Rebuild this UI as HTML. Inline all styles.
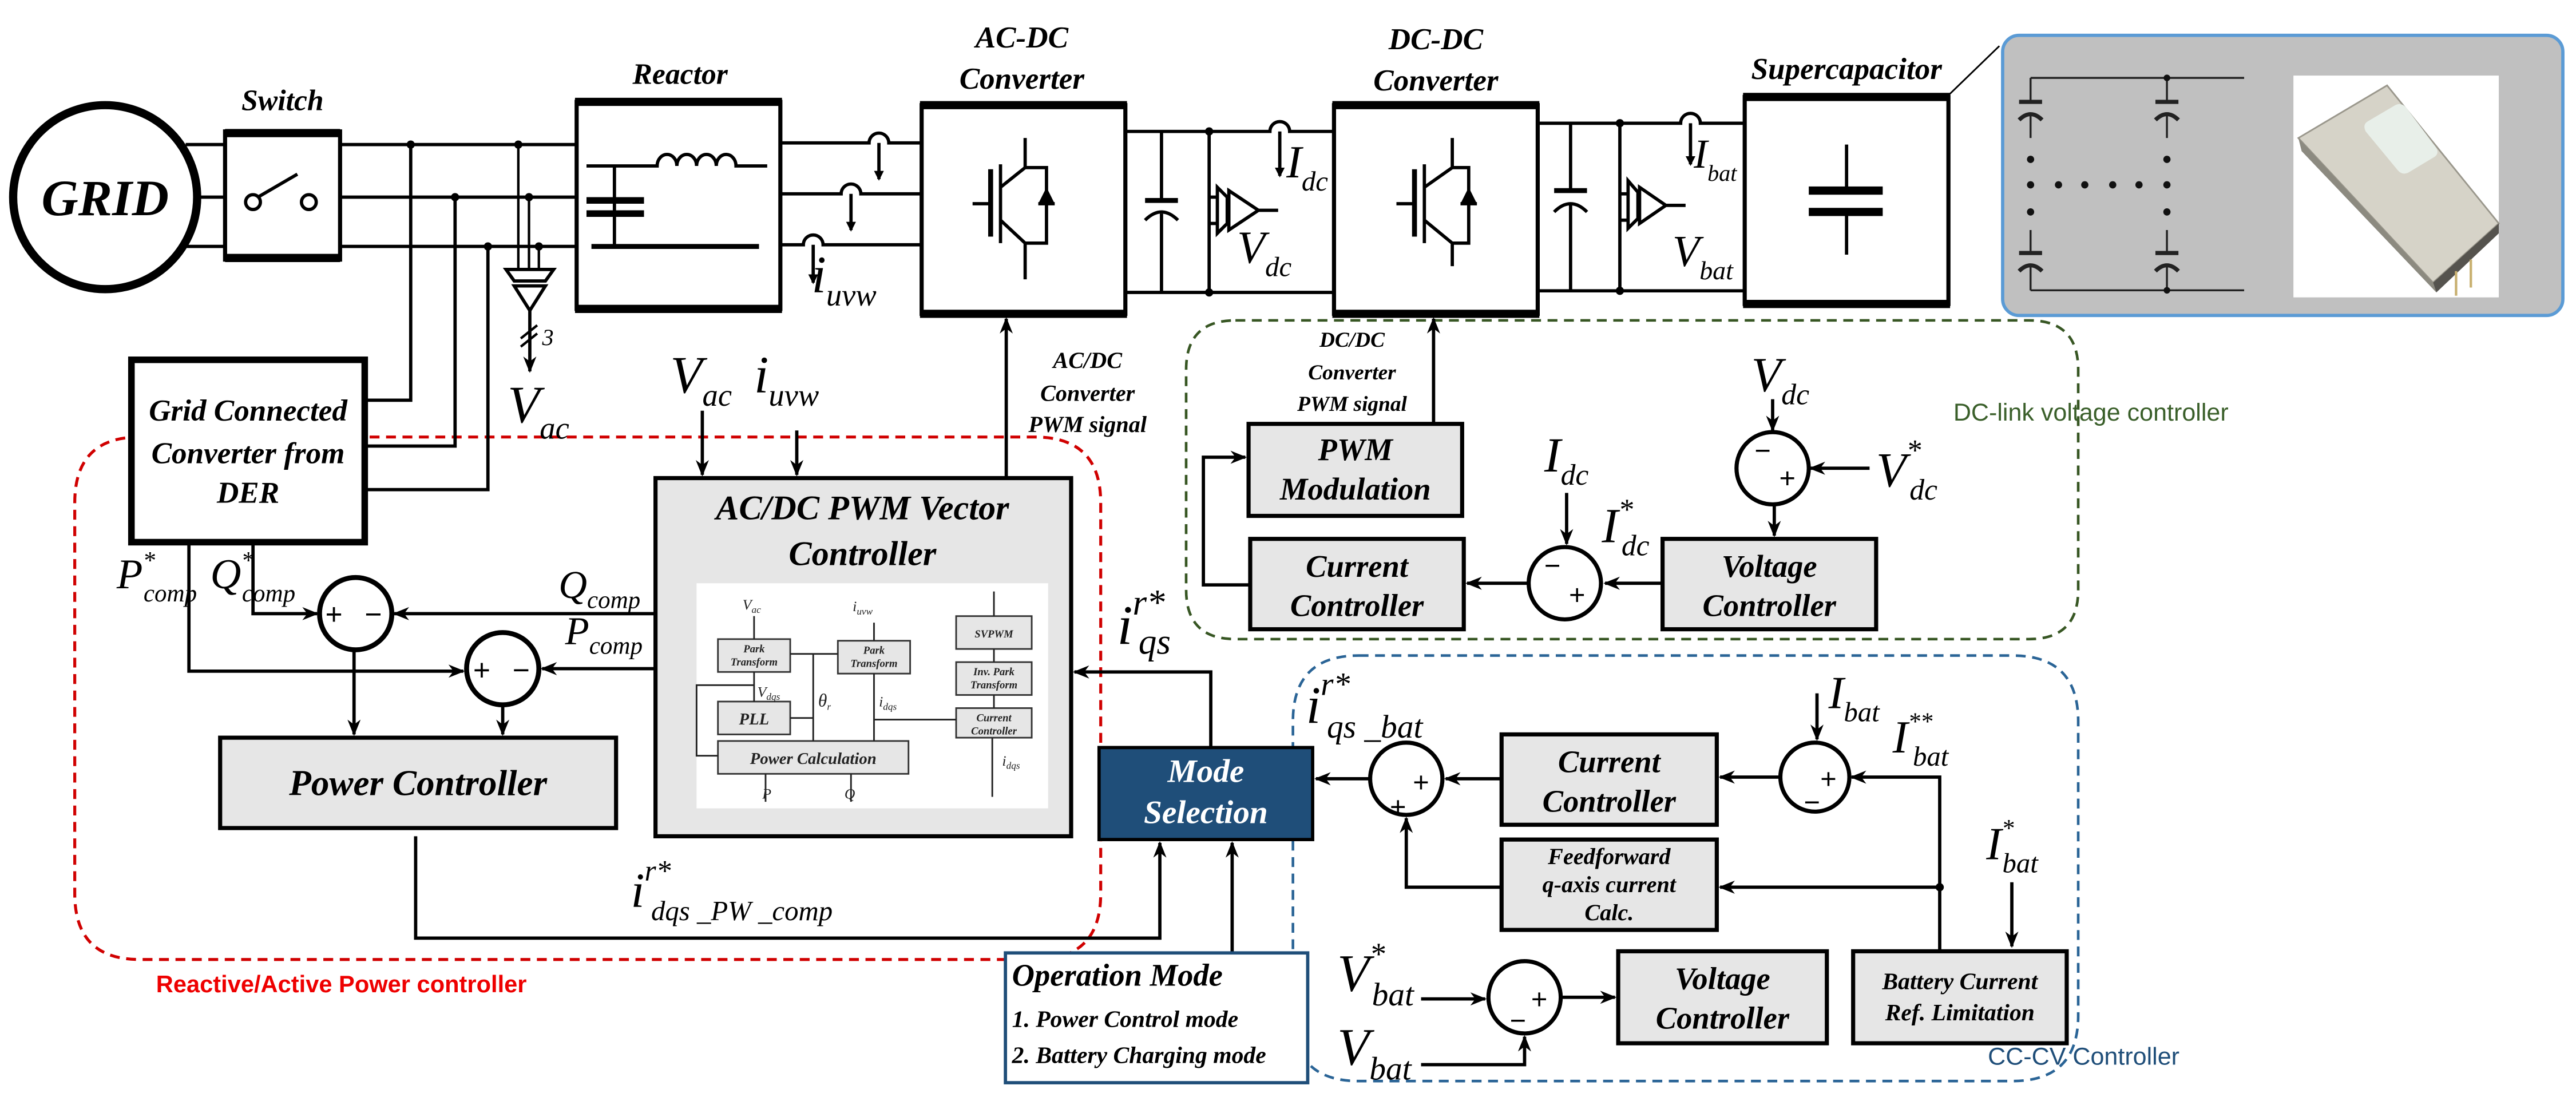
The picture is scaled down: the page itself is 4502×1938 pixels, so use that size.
<!DOCTYPE html>
<html><head><meta charset="utf-8"><style>
html,body{margin:0;padding:0;background:#fff}
svg{display:block}
.b{font-family:"Liberation Serif",serif;font-weight:bold;font-style:italic}
.m{font-family:"Liberation Serif",serif;font-style:italic}
.ln{stroke:#000;stroke-width:2;fill:none}
.bx{fill:#e6e6e6;stroke:#000;stroke-width:2.5}
</style></head><body>
<svg width="4502" height="1938" viewBox="0 0 1568 675" preserveAspectRatio="none" xmlns="http://www.w3.org/2000/svg">
<defs>
<marker id="a" markerWidth="10" markerHeight="10" refX="9" refY="5" orient="auto" markerUnits="userSpaceOnUse"><path d="M0,1 L10,5 L0,9 L3,5 z" fill="#000"/></marker>
<marker id="s" markerWidth="6" markerHeight="6" refX="5" refY="3" orient="auto" markerUnits="userSpaceOnUse"><path d="M0,0 L6,3 L0,6 z" fill="#000"/></marker>
</defs>
<rect width="1568" height="675" fill="#fff"/>

<path d="M85,266 H630 Q670,266 670,306 V544 Q670,584 630,584 H85 Q45.5,584 45.5,544 V306 Q45.5,266 85,266 Z" fill="none" stroke="#d00000" stroke-width="1.8" stroke-dasharray="6,4"/>
<text x="95" y="604" font-family="Liberation Sans,sans-serif" font-weight="bold" font-size="14.5" fill="#ee0000">Reactive/Active Power controller</text>
<path d="M752,195 H1235 Q1265,195 1265,225 V359 Q1265,389 1235,389 H752 Q722,389 722,359 V225 Q722,195 752,195 Z" fill="none" stroke="#375623" stroke-width="1.6" stroke-dasharray="6,4"/>
<text x="1189" y="256" font-family="Liberation Sans,sans-serif" font-size="15" fill="#3a5f2a">DC-link voltage controller</text>
<path d="M827,399 H1225 Q1265,399 1265,439 V618 Q1265,658 1225,658 H827 Q787,658 787,618 V439 Q787,399 827,399 Z" fill="none" stroke="#2a6496" stroke-width="1.6" stroke-dasharray="6,4"/>
<text x="1210" y="648" font-family="Liberation Sans,sans-serif" font-size="15" fill="#1f4e79">CC-CV Controller</text>

<circle cx="64" cy="120" r="56" fill="none" stroke="#000" stroke-width="5"/>
<text x="64" y="131" text-anchor="middle" class="b" font-size="31">GRID</text>
<path class="ln" d="M113,88 H136 M120,120 H136 M113,150 H136"/>
<text x="172" y="67" text-anchor="middle" class="b" font-size="18">Switch</text>
<rect x="137" y="80" width="70" height="78" fill="#fff" stroke="#000" stroke-width="2.5"/>
<path d="M137,81 H207 M137,157 H207" stroke="#000" stroke-width="5"/>
<circle cx="154" cy="123" r="4.5" class="ln"/><circle cx="188" cy="123" r="4.5" class="ln"/>
<path class="ln" d="M157,120 L181,106"/>
<path class="ln" d="M207,88 H350 M207,120 H350 M207,150 H350"/>
<g fill="#000"><circle cx="250" cy="88" r="2.5"/><circle cx="277" cy="120" r="2.5"/><circle cx="297" cy="150" r="2.5"/><circle cx="315.5" cy="88" r="2.5"/><circle cx="322" cy="120" r="2.5"/><circle cx="328" cy="150" r="2.5"/></g>
<path class="ln" d="M250,88 V243.6 H223 M277,120 V271.5 H223 M297,150 V298 H223"/>
<path d="M315.5,88 V164 M322,120 V164 M328,150 V164" stroke="#000" stroke-width="1.5"/>
<path d="M308,164 H337 L332,171 H313 Z" class="ln" stroke-width="1.5"/>
<path d="M313,174 H332 L322.5,189 Z" class="ln" stroke-width="1.5"/>
<path class="ln" d="M322.5,189 V226" marker-end="url(#a)" stroke-width="1.5"/>
<path d="M317,206 L327,198 M317,211 L327,203" stroke="#000" stroke-width="1.5"/>
<text x="330" y="210" class="m" font-size="14">3</text>
<text x="309" y="257" class="m" font-size="32">V<tspan font-size="19" dy="10">ac</tspan></text>

<rect x="80" y="219" width="142" height="111" fill="#fff" stroke="#000" stroke-width="4"/>
<text x="151" y="256" text-anchor="middle" class="b" font-size="18.5">Grid Connected</text>
<text x="151" y="282" text-anchor="middle" class="b" font-size="18.5">Converter from</text>
<text x="151" y="306" text-anchor="middle" class="b" font-size="18.5">DER</text>

<text x="414" y="51" text-anchor="middle" class="b" font-size="18">Reactor</text>
<rect x="351" y="62" width="124" height="126" fill="#fff" stroke="#000" stroke-width="2.5"/>
<path d="M350,62 H476 M350,188 H476" stroke="#000" stroke-width="5"/>
<path class="ln" stroke-width="3" d="M357,101 H400 a6,7 0 0 1 12,0 a6,7 0 0 1 12,0 a6,7 0 0 1 12,0 a6,7 0 0 1 12,0 H467"/>
<path class="ln" d="M374,101 V150"/>
<path d="M357,122 H392 M357,130 H392" stroke="#000" stroke-width="4"/>
<path d="M360,150 H462" stroke="#000" stroke-width="3"/>
<path class="ln" d="M475,87 H529 a6,6 0 0 1 12,0 H560 M475,118 H512 a6,6 0 0 1 12,0 H560 M475,149 H489 a6,6 0 0 1 12,0 H560"/>
<path class="ln" stroke-width="1.5" d="M535,87 V109" marker-end="url(#s)"/>
<path class="ln" stroke-width="1.5" d="M518,118 V140" marker-end="url(#s)"/>
<path class="ln" stroke-width="1.5" d="M495,149 V172" marker-end="url(#s)"/>
<text x="494" y="178" class="m" font-size="32">i<tspan font-size="19" dy="8">uvw</tspan></text>

<text x="622" y="29" text-anchor="middle" class="b" font-size="18.5">AC-DC</text>
<text x="622" y="54" text-anchor="middle" class="b" font-size="18.5">Converter</text>
<rect x="561" y="64" width="124" height="127" fill="#fff" stroke="#000" stroke-width="2.5"/>
<path d="M560,64 H686 M560,191 H686" stroke="#000" stroke-width="5"/>
<g class="ln">
<path d="M592,124 H603" /><path d="M603,103 V144" stroke-width="3"/><path d="M609,100 V148" stroke-width="2"/>
<path d="M609,114 L624,102 V84 M609,134 L624,148 V170 M624,102 H637 V148 H624"/>
<path d="M632,124 H642" /></g>
<path d="M637,114 L632,124 H642 Z" fill="#000"/>
<path class="ln" d="M685,80 H773 a6,6 0 0 1 12,0 H811 M685,178 H811"/>
<path class="ln" d="M707,80 V122 M707,130 V178 M736,80 V178"/>
<path d="M697,122 H717" stroke="#000" stroke-width="3"/><path d="M697,134 Q707,124 717,134" class="ln" stroke-width="3"/>
<g fill="#000"><circle cx="736" cy="80" r="2.5"/><circle cx="736" cy="178" r="2.5"/></g>
<path class="ln" stroke-width="1.5" d="M736,120 H741 M736,136 H741 M741,114 V142 L747,136 V120 Z M748,116 V140 L766,128 Z M766,128 H778" />
<path class="ln" stroke-width="1.5" d="M779,80 V107" marker-end="url(#s)"/>
<text x="783" y="108" class="m" font-size="28">I<tspan font-size="17" dy="8">dc</tspan></text>
<text x="753" y="160" class="m" font-size="28">V<tspan font-size="17" dy="8">dc</tspan></text>

<text x="874" y="30" text-anchor="middle" class="b" font-size="18.5">DC-DC</text>
<text x="874" y="55" text-anchor="middle" class="b" font-size="18.5">Converter</text>
<rect x="812" y="64" width="124" height="127" fill="#fff" stroke="#000" stroke-width="2.5"/>
<path d="M811,64 H937 M811,191 H937" stroke="#000" stroke-width="5"/>
<g class="ln">
<path d="M850,124 H861"/><path d="M861,103 V144" stroke-width="3"/><path d="M867,100 V148"/>
<path d="M867,114 L884,102 V84 M867,134 L884,148 V162 M884,102 H894 V148 H884"/>
<path d="M889,124 H899"/></g>
<path d="M894,114 L889,124 H899 Z" fill="#000"/>
<path class="ln" d="M936,75 H1023 a6,6 0 0 1 12,0 H1061 M936,177 H1061"/>
<path class="ln" d="M956,75 V116 M956,124 V177 M986,75 V177"/>
<path d="M946,116 H966" stroke="#000" stroke-width="3"/><path d="M946,129 Q956,119 966,129" class="ln" stroke-width="3"/>
<g fill="#000"><circle cx="986" cy="75" r="2.5"/><circle cx="986" cy="177" r="2.5"/></g>
<path class="ln" stroke-width="1.5" d="M986,118 H991 M986,134 H991 M991,110 V139 L997,133 V117 Z M998,114 V136 L1014,125 Z M1014,125 H1026"/>
<path class="ln" stroke-width="1.5" d="M1029,75 V100" marker-end="url(#s)"/>
<text x="1031" y="102" class="m" font-size="25">I<tspan font-size="14" dy="8">bat</tspan></text>
<text x="1018" y="162" class="m" font-size="27">V<tspan font-size="16" dy="8">bat</tspan></text>

<text x="1124" y="48" text-anchor="middle" class="b" font-size="18.5">Supercapacitor</text>
<rect x="1062" y="59" width="124" height="126" fill="#fff" stroke="#000" stroke-width="2.5"/>
<path d="M1061,59 H1187 M1061,185 H1187" stroke="#000" stroke-width="5"/>
<path class="ln" d="M1124,88 V116 M1124,129 V155"/>
<path d="M1101,116 H1146 M1101,129 H1146" stroke="#000" stroke-width="5"/>
<path d="M1186,58 L1217,28" stroke="#000" stroke-width="1"/>
<rect x="1219" y="21.5" width="341" height="170.5" rx="10" fill="#c0c0c0" stroke="#5b9bd5" stroke-width="2"/>
<g stroke="#222" stroke-width="1.2" fill="none">
<path d="M1236,47.4 H1366 M1236,176.7 H1366 M1236,47.4 V62 M1236,70 V84 M1319,47.4 V62 M1319,70 V84 M1236,140 V154 M1236,162 V176.7 M1319,140 V154 M1319,162 V176.7"/>
<path d="M1229,62 H1243 M1312,62 H1326 M1229,154 H1243 M1312,154 H1326" stroke-width="2.5"/>
<path d="M1229,73 Q1236,66 1243,73 M1312,73 Q1319,66 1326,73 M1229,165 Q1236,158 1243,165 M1312,165 Q1319,158 1326,165" stroke-width="2.5"/>
</g>
<g fill="#111"><circle cx="1236" cy="97" r="2.2"/><circle cx="1236" cy="129" r="2.2"/><circle cx="1319" cy="97" r="2.2"/><circle cx="1319" cy="129" r="2.2"/><circle cx="1319" cy="47.4" r="2"/><circle cx="1319" cy="176.7" r="2"/>
<circle cx="1236" cy="112.5" r="2.2"/><circle cx="1253" cy="112.5" r="2.2"/><circle cx="1269" cy="112.5" r="2.2"/><circle cx="1286" cy="112.5" r="2.2"/><circle cx="1302" cy="112.5" r="2.2"/><circle cx="1319" cy="112.5" r="2.2"/></g>
<rect x="1396" y="46" width="125" height="135" fill="#fff"/>
<path d="M1399,84 L1453,52 L1521,136 L1481,172 Z" fill="#d6d3c8" stroke="#9a978c" stroke-width="1"/>
<path d="M1399,84 L1401,92 L1483,178 L1481,172 Z" fill="#8c8a80"/>
<path d="M1481,172 L1483,178 L1521,142 L1521,136 Z" fill="#55534e"/>
<path d="M1441,74 L1458,64 Q1462,62 1465,66 L1483,90 Q1485,94 1481,96 L1466,105 Q1462,107 1459,103 L1440,80 Q1438,76 1441,74 Z" fill="#e8efe9"/>
<path d="M1495,165 V180 M1504,158 V175" stroke="#c8b070" stroke-width="1.5"/>

<path class="ln" d="M612.5,290 V194" marker-end="url(#a)"/>
<text x="662" y="224" text-anchor="middle" class="b" font-size="14">AC/DC</text>
<text x="662" y="244" text-anchor="middle" class="b" font-size="14">Converter</text>
<text x="662" y="263" text-anchor="middle" class="b" font-size="14">PWM signal</text>
<text x="408" y="239" class="m" font-size="32">V<tspan font-size="19" dy="8">ac</tspan></text>
<text x="459" y="239" class="m" font-size="32">i<tspan font-size="19" dy="8">uvw</tspan></text>
<path class="ln" d="M427.5,250 V289" marker-end="url(#a)"/>
<path class="ln" d="M485,262 V289" marker-end="url(#a)"/>

<rect x="399" y="291" width="253" height="218" class="bx"/>
<text x="525" y="316" text-anchor="middle" class="b" font-size="21">AC/DC PWM Vector</text>
<text x="525" y="344" text-anchor="middle" class="b" font-size="21">Controller</text>
<rect x="424" y="355" width="214" height="137" fill="#fff"/>
<g stroke="#333" stroke-width="1" fill="#e6e6e6">
<rect x="437" y="389" width="44" height="20"/><rect x="510" y="390" width="44" height="20"/>
<rect x="437" y="427" width="44" height="20"/><rect x="437" y="451" width="116" height="20"/>
<rect x="582" y="375" width="46" height="20"/><rect x="582" y="403" width="46" height="20"/><rect x="582" y="431" width="46" height="18"/>
</g>
<g class="b" font-size="6.5" text-anchor="middle" fill="#222">
<text x="459" y="397">Park</text><text x="459" y="405">Transform</text>
<text x="532" y="398">Park</text><text x="532" y="406">Transform</text>
<text x="459" y="441" font-size="10">PLL</text>
<text x="495" y="465" font-size="10">Power Calculation</text>
<text x="605" y="388">SVPWM</text>
<text x="605" y="411">Inv. Park</text><text x="605" y="419">Transform</text>
<text x="605" y="439">Current</text><text x="605" y="447">Controller</text>
</g>
<g stroke="#222" stroke-width="1" fill="none">
<path d="M459,375 V389 M532,379 V390 M481,398 H510 M495,398 V451 M481,437 H495 M459,409 V427 M532,410 V451 M532,438 H582 M459,417 H424 V460 H437 M605,375 V360 M605,403 V395 M605,431 V423 M604,485 V449 M466,471 V488 M518,471 V488"/>
</g>
<g class="m" font-size="9" fill="#222">
<text x="452" y="371">V<tspan font-size="6" dy="2">ac</tspan></text>
<text x="519" y="372">i<tspan font-size="6" dy="2">uvw</tspan></text>
<text x="461" y="424">V<tspan font-size="6" dy="2">dqs</tspan></text>
<text x="498" y="430" font-size="11">θ<tspan font-size="6" dy="2">r</tspan></text>
<text x="535" y="430">i<tspan font-size="6" dy="2">dqs</tspan></text>
<text x="610" y="466">i<tspan font-size="6" dy="2">dqs</tspan></text>
<text x="464" y="486">P</text><text x="514" y="486">Q</text>
</g>

<text x="71" y="358" class="m" font-size="26">P<tspan font-size="15" dy="-12">*</tspan><tspan font-size="15" dx="-7" dy="20">comp</tspan></text>
<text x="128" y="358" class="m" font-size="26">Q<tspan font-size="15" dy="-12">*</tspan><tspan font-size="15" dx="-7" dy="20">comp</tspan></text>
<path class="ln" d="M115,331 V408.5 H282" marker-end="url(#a)"/>
<path class="ln" d="M154,331 V373.5 H193" marker-end="url(#a)"/>
<circle cx="216.5" cy="373.5" r="22" fill="#fff" stroke="#000" stroke-width="3"/>
<circle cx="306" cy="407" r="22" fill="#fff" stroke="#000" stroke-width="3"/>
<g font-family="Liberation Sans,sans-serif" font-size="18"><text x="198" y="380">+</text><text x="222" y="380">−</text><text x="288" y="414">+</text><text x="312" y="414">−</text></g>
<path class="ln" d="M399,373.5 H240" marker-end="url(#a)"/>
<path class="ln" d="M399,407 H330" marker-end="url(#a)"/>
<text x="340" y="364" class="m" font-size="24">Q<tspan font-size="15" dy="6">comp</tspan></text>
<text x="344" y="392" class="m" font-size="24">P<tspan font-size="15" dy="6">comp</tspan></text>
<path class="ln" d="M215.5,396 V447" marker-end="url(#a)"/>
<path class="ln" d="M306,429 V447" marker-end="url(#a)"/>
<rect x="134" y="449" width="241" height="55" class="bx"/>
<text x="254.5" y="484" text-anchor="middle" class="b" font-size="22">Power Controller</text>
<path class="ln" d="M253,509 V571 H706 V513" marker-end="url(#a)"/>
<text x="384" y="552" class="m" font-size="30">i<tspan font-size="18" dy="-16">r*</tspan><tspan font-size="17" dx="-12" dy="24">dqs _PW _comp</tspan></text>

<rect x="669" y="455" width="130" height="56" fill="#1f4e79" stroke="#000" stroke-width="2"/>
<text x="734" y="476" text-anchor="middle" class="b" font-size="20" fill="#fff">Mode</text>
<text x="734" y="501" text-anchor="middle" class="b" font-size="20" fill="#fff">Selection</text>
<path class="ln" d="M737,455 V409 H654" marker-end="url(#a)"/>
<text x="680" y="392" class="m" font-size="34">i<tspan font-size="22" dy="-18">r*</tspan><tspan font-size="22" dx="-16" dy="24">qs</tspan></text>
<path class="ln" d="M750,580 V513" marker-end="url(#a)"/>
<rect x="612" y="580" width="184" height="79" fill="#fff" stroke="#1f4e79" stroke-width="2"/>
<text x="616" y="600" class="b" font-size="19">Operation Mode</text>
<text x="616" y="625" class="b" font-size="14.5">1. Power Control mode</text>
<text x="616" y="647" class="b" font-size="14.5">2. Battery Charging mode</text>

<text x="823" y="211" text-anchor="middle" class="b" font-size="13">DC/DC</text>
<text x="823" y="231" text-anchor="middle" class="b" font-size="13">Converter</text>
<text x="823" y="250" text-anchor="middle" class="b" font-size="13">PWM signal</text>
<path class="ln" d="M872.6,257.5 V194" marker-end="url(#a)"/>
<rect x="760" y="258" width="130" height="56" class="bx"/>
<text x="825" y="280" text-anchor="middle" class="b" font-size="19">PWM</text>
<text x="825" y="304" text-anchor="middle" class="b" font-size="19">Modulation</text>
<rect x="761" y="328" width="130" height="55" class="bx"/>
<text x="826" y="351" text-anchor="middle" class="b" font-size="19">Current</text>
<text x="826" y="375" text-anchor="middle" class="b" font-size="19">Controller</text>
<path class="ln" d="M761,356 H732.5 V278.3 H758" marker-end="url(#a)"/>
<circle cx="952.5" cy="355" r="22" fill="#fff" stroke="#000" stroke-width="2.5"/>
<g font-family="Liberation Sans,sans-serif" font-size="17"><text x="940" y="350">−</text><text x="955" y="368">+</text></g>
<path class="ln" d="M930,355 H893" marker-end="url(#a)"/>
<path class="ln" d="M1012,355 H977" marker-end="url(#a)"/>
<path class="ln" d="M953.6,300 V331" marker-end="url(#a)"/>
<text x="940" y="287" class="m" font-size="30">I<tspan font-size="18" dy="8">dc</tspan></text>
<text x="975" y="330" class="m" font-size="30">I<tspan font-size="18" dy="-14">*</tspan><tspan font-size="18" dx="-7" dy="22">dc</tspan></text>
<rect x="1012" y="328" width="130" height="55" class="bx"/>
<text x="1077" y="351" text-anchor="middle" class="b" font-size="19">Voltage</text>
<text x="1077" y="375" text-anchor="middle" class="b" font-size="19">Controller</text>
<circle cx="1079" cy="285" r="22" fill="#fff" stroke="#000" stroke-width="2.5"/>
<g font-family="Liberation Sans,sans-serif" font-size="17"><text x="1068" y="280">−</text><text x="1083" y="297">+</text></g>
<path class="ln" d="M1080,307 V326" marker-end="url(#a)"/>
<path class="ln" d="M1079,243 V262" marker-end="url(#a)"/>
<text x="1066" y="238" class="m" font-size="30">V<tspan font-size="18" dy="8">dc</tspan></text>
<path class="ln" d="M1138,285 H1102" marker-end="url(#a)"/>
<text x="1142" y="296" class="m" font-size="30">V<tspan font-size="18" dy="-16">*</tspan><tspan font-size="18" dx="-7" dy="24">dc</tspan></text>

<circle cx="856" cy="474" r="22" fill="#fff" stroke="#000" stroke-width="2.5"/>
<g font-family="Liberation Sans,sans-serif" font-size="17"><text x="860" y="482">+</text><text x="846" y="497">+</text></g>
<path class="ln" d="M834,474 H801" marker-end="url(#a)"/>
<path class="ln" d="M914,474 H880" marker-end="url(#a)"/>
<path class="ln" d="M914,540 H856 V498" marker-end="url(#a)"/>
<text x="795" y="440" class="m" font-size="32">i<tspan font-size="20" dy="-17">r*</tspan><tspan font-size="20" dx="-14" dy="26">qs _bat</tspan></text>
<rect x="914" y="447" width="131" height="55" class="bx"/>
<text x="979.5" y="470" text-anchor="middle" class="b" font-size="19">Current</text>
<text x="979.5" y="494" text-anchor="middle" class="b" font-size="19">Controller</text>
<rect x="914" y="511" width="131" height="55" class="bx"/>
<text x="979.5" y="526" text-anchor="middle" class="b" font-size="14">Feedforward</text>
<text x="979.5" y="543" text-anchor="middle" class="b" font-size="14">q-axis current</text>
<text x="979.5" y="560" text-anchor="middle" class="b" font-size="14">Calc.</text>
<circle cx="1104.7" cy="473" r="21" fill="#fff" stroke="#000" stroke-width="2.5"/>
<g font-family="Liberation Sans,sans-serif" font-size="17"><text x="1108" y="480">+</text><text x="1098" y="494">−</text></g>
<path class="ln" d="M1083,473 H1047" marker-end="url(#a)"/>
<path class="ln" d="M1106,422 V450" marker-end="url(#a)"/>
<text x="1113" y="431" class="m" font-size="28">I<tspan font-size="17" dy="8">bat</tspan></text>
<text x="1152" y="458" class="m" font-size="28">I<tspan font-size="15" dy="-14">**</tspan><tspan font-size="17" dx="-12" dy="22">bat</tspan></text>
<path class="ln" d="M1180.7,578.6 V473 H1127" marker-end="url(#a)"/>
<path class="ln" d="M1180.7,540 H1047" marker-end="url(#a)"/>
<circle cx="1180.7" cy="540" r="2.5" fill="#000"/>
<text x="1209" y="523" class="m" font-size="28">I<tspan font-size="15" dy="-14">*</tspan><tspan font-size="17" dx="-7" dy="22">bat</tspan></text>
<path class="ln" d="M1224.6,537 V576" marker-end="url(#a)"/>
<rect x="1128" y="579" width="130" height="56" class="bx"/>
<text x="1193" y="602" text-anchor="middle" class="b" font-size="14.5">Battery Current</text>
<text x="1193" y="621" text-anchor="middle" class="b" font-size="14.5">Ref. Limitation</text>
<rect x="985" y="579" width="127" height="56" class="bx"/>
<text x="1048.5" y="602" text-anchor="middle" class="b" font-size="19">Voltage</text>
<text x="1048.5" y="626" text-anchor="middle" class="b" font-size="19">Controller</text>
<circle cx="928" cy="607" r="22" fill="#fff" stroke="#000" stroke-width="2.5"/>
<g font-family="Liberation Sans,sans-serif" font-size="17"><text x="932" y="614">+</text><text x="919" y="627">−</text></g>
<path class="ln" d="M950,607 H983" marker-end="url(#a)"/>
<path class="ln" d="M865,608 H904" marker-end="url(#a)"/>
<path class="ln" d="M865,648 H928 V631" marker-end="url(#a)"/>
<text x="814" y="603" class="m" font-size="32">V<tspan font-size="19" dy="-16">*</tspan><tspan font-size="20" dx="-8" dy="25">bat</tspan></text>
<text x="814" y="648" class="m" font-size="32">V<tspan font-size="20" dy="9">bat</tspan></text>
</svg>
</body></html>
